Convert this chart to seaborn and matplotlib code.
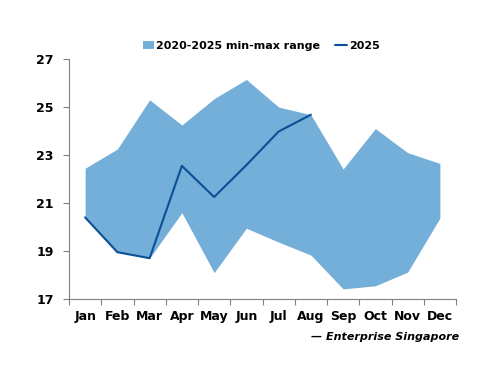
import matplotlib
matplotlib.use('Agg')
import matplotlib.pyplot as plt
import seaborn as sns
import pandas as pd
from matplotlib.patches import Patch
from matplotlib.lines import Line2D

# data
months = ['Jan', 'Feb', 'Mar', 'Apr', 'May', 'Jun', 'Jul', 'Aug', 'Sep', 'Oct', 'Nov', 'Dec']
range_max = [22.45, 23.25, 25.3, 24.25, 25.35, 26.15, 25.0, 24.68, 22.42, 24.1, 23.1, 22.65]
range_min = [20.4, 18.95, 18.7, 20.6, 18.1, 19.95, 19.37, 18.83, 17.42, 17.55, 18.12, 20.37]
vals_2025 = [20.4, 18.95, 18.7, 22.55, 21.25, 22.58, 23.98, 24.68]

sns.set_style('white')
plt.rcParams['font.family'] = ['DejaVu Sans']
plt.rcParams['text.color'] = 'black'
plt.rcParams['xtick.labelcolor'] = 'black'
plt.rcParams['ytick.labelcolor'] = 'black'

fill_col = '#74AFD9'
line_col = '#0B4F96'

fig = plt.figure(figsize=(5, 3.86), dpi=100)
ax = fig.add_axes([0.138, 0.2254, 0.774, 0.6216])

x = list(range(len(months)))
ax.fill_between(x, range_min, range_max, color=fill_col, linewidth=0)
df25 = pd.DataFrame({'x': x[:len(vals_2025)], 'v': vals_2025})
sns.lineplot(data=df25, x='x', y='v', ax=ax, color=line_col, linewidth=1.5)

ax.set_xlim(-0.5, 11.5)
ax.set_ylim(17, 27)
ax.set_yticks([17, 19, 21, 23, 25, 27])
ax.set_xticks([i - 0.5 for i in range(13)])
ax.set_xticklabels([])
ax.set_xticks(x, minor=True)
ax.set_xticklabels(months, minor=True)
ax.tick_params(axis='x', which='major', length=4, direction='out', color='#808080', width=0.8, bottom=True)
ax.tick_params(axis='x', which='minor', length=0, pad=8)
ax.tick_params(axis='y', length=4, direction='out', color='#808080', width=0.8, left=True, pad=7)
for lab in ax.get_xticklabels(minor=True) + ax.get_yticklabels():
    lab.set_fontweight('bold')
    lab.set_fontsize(9)
ax.set_xlabel('')
ax.set_ylabel('')
for s in ['top', 'right']:
    ax.spines[s].set_visible(False)
for s in ['left', 'bottom']:
    ax.spines[s].set_color('#808080')
    ax.spines[s].set_linewidth(0.8)

handles = [Patch(facecolor=fill_col, edgecolor='none', label='2020-2025 min-max range'),
           Line2D([0], [0], color=line_col, linewidth=1.5, label='2025')]
fig.legend(handles=handles, loc='center', bbox_to_anchor=(0.522, 0.882), ncol=2, frameon=False,
           prop={'weight': 'bold', 'size': 8}, handlelength=1.0, handletextpad=0.2, columnspacing=1.4)

fig.text(0.918, 0.127, '— Enterprise Singapore', ha='right', va='center',
         fontsize=8, fontweight='bold', fontstyle='italic')

fig.savefig('out.png', dpi=100)
